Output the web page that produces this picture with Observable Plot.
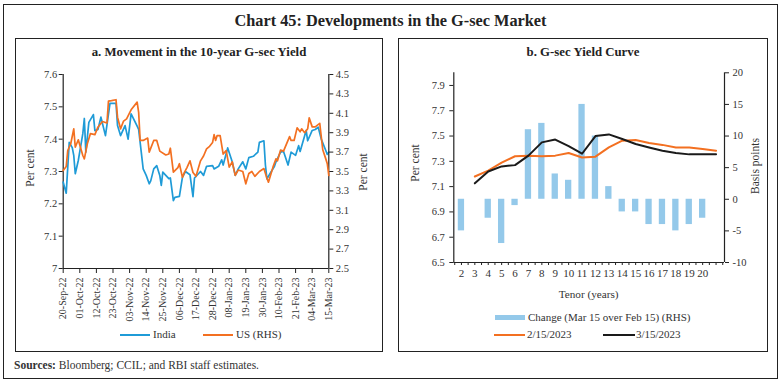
<!DOCTYPE html>
<html><head><meta charset="utf-8">
<script src="https://cdn.jsdelivr.net/npm/d3@7"></script>
<script src="https://cdn.jsdelivr.net/npm/@observablehq/plot@0.6"></script>
<style>
body{margin:0;background:#fff;font-family:"Liberation Serif",serif;color:#222;}
#root{position:relative;width:781px;height:384px;overflow:hidden;background:#fff;font-family:"Liberation Serif",serif;}
.box{position:absolute;border:1px solid #222;box-sizing:border-box;}
.t{position:absolute;white-space:nowrap;font-family:"Liberation Serif",serif;line-height:1.15;}
.rot{position:absolute;white-space:nowrap;transform:translate(-50%,-50%) rotate(-90deg);font-size:11.5px;color:#333;font-family:"Liberation Serif",serif;}
#root svg{position:absolute;left:0;top:0;}
.sw{position:absolute;}
</style></head><body><div id="root"></div>
<script>
// ---------- Panel a: 10-year G-sec yield ----------
const indiaDates = ["2022-09-20","2022-09-22","2022-09-24","2022-09-26","2022-09-27","2022-09-28","2022-09-30","2022-10-03","2022-10-04","2022-10-05","2022-10-07","2022-10-10","2022-10-11","2022-10-13","2022-10-15","2022-10-18","2022-10-21","2022-10-25","2022-10-26","2022-10-28","2022-10-31","2022-11-02","2022-11-04","2022-11-08","2022-11-09","2022-11-12","2022-11-14","2022-11-16","2022-11-17","2022-11-19","2022-11-21","2022-11-23","2022-11-24","2022-11-25","2022-11-29","2022-11-30","2022-12-02","2022-12-03","2022-12-06","2022-12-08","2022-12-10","2022-12-13","2022-12-15","2022-12-16","2022-12-20","2022-12-22","2022-12-24","2022-12-28","2022-12-29","2023-01-01","2023-01-03","2023-01-04","2023-01-07","2023-01-10","2023-01-12","2023-01-14","2023-01-17","2023-01-19","2023-01-21","2023-01-24","2023-01-27","2023-01-28","2023-01-31","2023-02-01","2023-02-02","2023-02-04","2023-02-07","2023-02-08","2023-02-11","2023-02-13","2023-02-16","2023-02-18","2023-02-21","2023-02-23","2023-02-24","2023-02-28","2023-03-01","2023-03-04","2023-03-06","2023-03-08","2023-03-10","2023-03-13","2023-03-14","2023-03-15"];
const indiaYield = [7.267,7.233,7.39,7.374,7.35,7.293,7.334,7.417,7.464,7.36,7.452,7.476,7.426,7.43,7.468,7.411,7.511,7.511,7.442,7.411,7.442,7.40,7.478,7.44,7.43,7.308,7.288,7.262,7.271,7.308,7.318,7.288,7.257,7.298,7.278,7.28,7.21,7.22,7.223,7.282,7.30,7.29,7.222,7.28,7.30,7.288,7.316,7.318,7.308,7.316,7.336,7.32,7.373,7.33,7.288,7.308,7.33,7.308,7.343,7.347,7.36,7.39,7.395,7.32,7.277,7.293,7.316,7.33,7.36,7.362,7.32,7.36,7.35,7.38,7.362,7.427,7.395,7.427,7.43,7.437,7.40,7.365,7.353,7.36];
const usDates = ["2022-09-20","2022-09-22","2022-09-23","2022-09-25","2022-09-27","2022-09-28","2022-09-30","2022-10-03","2022-10-04","2022-10-06","2022-10-08","2022-10-11","2022-10-13","2022-10-16","2022-10-19","2022-10-20","2022-10-22","2022-10-25","2022-10-26","2022-10-28","2022-10-30","2022-11-01","2022-11-04","2022-11-08","2022-11-09","2022-11-10","2022-11-12","2022-11-15","2022-11-16","2022-11-19","2022-11-21","2022-11-23","2022-11-27","2022-11-29","2022-11-30","2022-12-02","2022-12-05","2022-12-06","2022-12-08","2022-12-09","2022-12-11","2022-12-13","2022-12-15","2022-12-17","2022-12-20","2022-12-22","2022-12-24","2022-12-26","2022-12-28","2022-12-29","2022-12-30","2022-12-31","2023-01-02","2023-01-04","2023-01-06","2023-01-08","2023-01-10","2023-01-11","2023-01-12","2023-01-14","2023-01-17","2023-01-19","2023-01-21","2023-01-23","2023-01-25","2023-01-28","2023-01-31","2023-02-02","2023-02-03","2023-02-06","2023-02-08","2023-02-09","2023-02-11","2023-02-13","2023-02-17","2023-02-18","2023-02-20","2023-02-22","2023-02-24","2023-02-25","2023-02-27","2023-03-01","2023-03-02","2023-03-04","2023-03-06","2023-03-09","2023-03-11","2023-03-13","2023-03-14","2023-03-15"];
const usYield = [3.51,3.552,3.716,3.786,3.94,3.75,3.827,3.665,3.63,3.786,3.89,3.88,3.957,4.015,4.0,4.225,4.23,4.24,4.06,3.94,4.02,4.043,4.136,4.215,4.11,3.82,3.82,3.845,3.7,3.82,3.82,3.71,3.67,3.68,3.74,3.493,3.54,3.58,3.44,3.48,3.54,3.61,3.49,3.45,3.61,3.66,3.734,3.76,3.80,3.88,3.82,3.87,3.87,3.68,3.715,3.545,3.6,3.53,3.46,3.515,3.5,3.373,3.48,3.5,3.45,3.5,3.53,3.43,3.39,3.545,3.63,3.61,3.72,3.71,3.86,3.82,3.82,3.95,3.91,3.94,3.90,3.94,4.053,3.96,3.96,3.996,3.724,3.63,3.58,3.46];
const aDateTicks = ["2022-09-20","2022-10-01","2022-10-12","2022-10-23","2022-11-03","2022-11-14","2022-11-25","2022-12-06","2022-12-17","2022-12-28","2023-01-08","2023-01-19","2023-01-30","2023-02-10","2023-02-21","2023-03-04","2023-03-15"];
const aLeftTicks = [7,7.1,7.2,7.3,7.4,7.5,7.6];
const aRightTicks = [2.5,2.7,2.9,3.1,3.3,3.5,3.7,3.9,4.1,4.3,4.5];

// ---------- Panel b: G-sec yield curve ----------
const barTenors = [2,3,4,5,6,7,8,9,10,11,12,13,14,15,16,17,18,19,20];
const changeBp = [-5,0,-3,-7,-1,11,12,4,3,15,10,2,-2,-2,-4,-4,-5,-4,-3];
const lineTenors = [3,4,5,6,7,8,9,10,11,12,13,14,15,16,17,18,19,20,21];
const feb15 = [7.18,7.226,7.29,7.34,7.345,7.34,7.345,7.366,7.33,7.337,7.41,7.463,7.468,7.445,7.43,7.41,7.41,7.397,7.384];
const mar15 = [7.126,7.22,7.26,7.27,7.345,7.45,7.472,7.42,7.36,7.50,7.513,7.476,7.437,7.41,7.384,7.366,7.355,7.355,7.355];
const bLeftTicks = [6.5,6.7,6.9,7.1,7.3,7.5,7.7,7.9];
const bRightTicks = [-10,-5,0,5,10,15,20];
const bXLabels = [2,3,4,5,6,7,8,9,10,11,12,13,14,15,16,17,18,19,20];

const C_INDIA = "#1F9BD7", C_US = "#F37021", C_BAR = "#94C9EA", C_FEB = "#F37021", C_MAR = "#1a1a1a";
const FONT = '"Liberation Serif", serif';
const W = 781, H = 384;
const parse = d3.utcParse("%Y-%m-%d");
const fmtDate = d3.utcFormat("%d-%b-%y");

const india = indiaDates.map((d,i)=>({date:parse(d), v:indiaYield[i]}));
const us = usDates.map((d,i)=>({date:parse(d), v:usYield[i]}));
const bars = barTenors.map((n,i)=>({n, bp:changeBp[i]}));
const febLine = lineTenors.map((n,i)=>({n, v:feb15[i]}));
const marLine = lineTenors.map((n,i)=>({n, v:mar15[i]}));
const xDom = [parse(aDateTicks[0]), parse(aDateTicks[aDateTicks.length-1])];

const root = document.getElementById("root");
const baseStyle = {background:"transparent", fontFamily:FONT, fontSize:"10.5px", color:"#333", overflow:"visible"};

// panel a geometry
const A = {l:62.7, r:328.3, t:74, b:268};
const aMargins = {width:W, height:H, marginLeft:A.l, marginRight:W-A.r, marginTop:A.t, marginBottom:H-A.b};

const svgA1 = Plot.plot({
  ...aMargins, style:baseStyle,
  x:{type:"utc", domain:xDom},
  y:{domain:[7,7.6]},
  marks:[
    Plot.axisY({ticks:aLeftTicks, tickFormat:d=>String(d), tickSize:4, tickPadding:2, label:null, stroke:"#222"}),
    Plot.axisX({ticks:aDateTicks.map(parse), tickFormat:fmtDate, tickRotate:-90, tickSize:5, tickPadding:4, label:null, stroke:"#222", fontSize:10}),
    Plot.ruleX([xDom[0]], {stroke:"#222", strokeWidth:1.2}),
    Plot.ruleY([7], {stroke:"#222", strokeWidth:1.2}),
    Plot.line(india, {x:"date", y:"v", stroke:C_INDIA, strokeWidth:1.7})
  ]
});
const svgA2 = Plot.plot({
  ...aMargins, style:baseStyle,
  x:{type:"utc", domain:xDom, axis:null},
  y:{domain:[2.5,4.5], axis:null},
  marks:[
    Plot.axisY({anchor:"right", ticks:aRightTicks, tickFormat:d=>String(d), tickSize:4, tickPadding:3, label:null, stroke:"#222"}),
    Plot.ruleX([xDom[1]], {stroke:"#222", strokeWidth:1.2}),
    Plot.line(us, {x:"date", y:"v", stroke:C_US, strokeWidth:1.7})
  ]
});

// panel b geometry
const B = {l:453.3, r:724, t:72.3, b:262};
const bMargins = {width:W, height:H, marginLeft:B.l, marginRight:W-B.r, marginTop:B.t, marginBottom:H-B.b};
const bXDom = [1.43, 21.63];
const halfTicks = d3.range(3, 44).map(k=>k/2);

const svgB1 = Plot.plot({
  ...bMargins, style:baseStyle,
  x:{domain:bXDom, axis:null},
  y:{domain:[-10,20], axis:null},
  marks:[
    Plot.axisY({anchor:"right", ticks:bRightTicks, tickFormat:d=>String(d), tickSize:4, tickPadding:4, label:null, stroke:"#222"}),
    Plot.ruleX([bXDom[1]], {stroke:"#222", strokeWidth:1.2}),
    Plot.rectY(bars, {x1:d=>d.n-0.235, x2:d=>d.n+0.235, y1:0, y2:"bp", fill:C_BAR})
  ]
});
const svgB2 = Plot.plot({
  ...bMargins, style:baseStyle,
  x:{domain:bXDom, axis:null},
  y:{domain:[6.5,8.0], axis:null},
  marks:[
    Plot.axisY({ticks:bLeftTicks, tickFormat:d=>String(d), tickSize:4, tickPadding:5, label:null, stroke:"#222"}),
    Plot.axisX({ticks:bXLabels, tickFormat:d=>String(d), tickSize:0, tickPadding:7, label:null, fontSize:11}),
    Plot.axisX({ticks:halfTicks, tickFormat:()=>"", tickSize:3, label:null, stroke:"#222"}),
    Plot.ruleX([bXDom[0]], {stroke:"#222", strokeWidth:1.2}),
    Plot.ruleY([6.5], {stroke:"#222", strokeWidth:1.2}),
    Plot.line(febLine, {x:"n", y:"v", stroke:C_FEB, strokeWidth:2}),
    Plot.line(marLine, {x:"n", y:"v", stroke:C_MAR, strokeWidth:2})
  ]
});

function el(cls, css, html){const d=document.createElement("div"); d.className=cls; Object.assign(d.style, css); if(html!=null) d.innerHTML=html; root.appendChild(d); return d;}

// frames
el("box", {left:"3px", top:"4px", width:"775px", height:"375px", border:"1.5px solid #222"});
el("box", {left:"15px", top:"38px", width:"368px", height:"314px"});
el("box", {left:"398px", top:"38px", width:"370px", height:"314px"});

root.appendChild(svgB1);
root.appendChild(svgB2);
root.appendChild(svgA1);
root.appendChild(svgA2);

// titles
el("t", {left:"0", top:"12px", width:"781px", textAlign:"center", fontSize:"16.3px", fontWeight:"bold", color:"#222"}, "Chart 45: Developments in the G-sec Market");
el("t", {left:"15px", top:"45px", width:"368px", textAlign:"center", fontSize:"12.8px", fontWeight:"bold", color:"#222"}, "a. Movement in the 10-year G-sec Yield");
el("t", {left:"398px", top:"45px", width:"370px", textAlign:"center", fontSize:"12.8px", fontWeight:"bold", color:"#222"}, "b. G-sec Yield Curve");

// axis titles
el("rot", {left:"30px", top:"168px"}, "Per cent");
el("rot", {left:"363px", top:"172px"}, "Per cent");
el("rot", {left:"415px", top:"163px"}, "Per cent");
el("rot", {left:"755px", top:"166px"}, "Basis points");
el("t", {left:(B.l)+"px", top:"288px", width:(B.r-B.l)+"px", textAlign:"center", fontSize:"11.2px", color:"#333"}, "Tenor (years)");

// legend a
el("sw", {left:"120px", top:"334px", width:"30px", height:"2px", background:C_INDIA});
el("t", {left:"153px", top:"328px", fontSize:"11px", color:"#333"}, "India");
el("sw", {left:"203px", top:"334px", width:"30px", height:"2px", background:C_US});
el("t", {left:"236px", top:"328px", fontSize:"11px", color:"#333"}, "US (RHS)");

// legend b
el("sw", {left:"495px", top:"315px", width:"30px", height:"5px", background:C_BAR});
el("t", {left:"528px", top:"311px", fontSize:"11px", color:"#333"}, "Change (Mar 15 over Feb 15) (RHS)");
el("sw", {left:"494px", top:"334px", width:"31px", height:"2px", background:C_FEB});
el("t", {left:"527px", top:"328px", fontSize:"11px", color:"#333"}, "2/15/2023");
el("sw", {left:"603px", top:"334px", width:"32px", height:"2px", background:C_MAR});
el("t", {left:"636px", top:"328px", fontSize:"11px", color:"#333"}, "3/15/2023");

// source
el("t", {left:"14px", top:"359px", fontSize:"11.5px", color:"#333"}, "<b>Sources:</b> Bloomberg; CCIL; and RBI staff estimates.");
</script></body></html>
